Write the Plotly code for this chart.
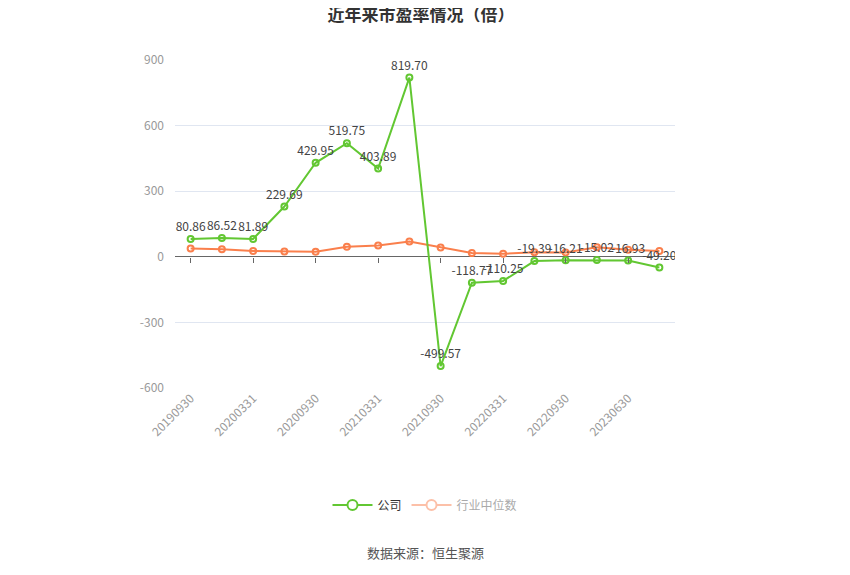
import plotly.graph_objects as go

dates = ['20190930', '20191231', '20200331', '20200630', '20200930', '20201231',
         '20210331', '20210630', '20210930', '20211231', '20220331', '20220630',
         '20220930', '20221231', '20230630', '20230930']
company = [80.86, 86.52, 81.89, 229.69, 429.95, 519.75, 403.89, 819.70,
           -499.57, -118.77, -110.25, -19.39, -16.21, -15.02, -16.93, -49.20]
industry = [38, 35, 27, 24, 23, 46, 52, 70, 42, 17, 14, 21, 20, 44, 32, 27]
yticks = [-600, -300, 0, 300, 600, 900]

green = '#62c732'
orange = '#fa7f4c'
font = 'Noto Sans CJK SC'

fig = go.Figure()

fig.add_trace(go.Scatter(
    x=dates, y=industry, mode='lines+markers', name='行业中位数',
    line=dict(color=orange, width=2),
    marker=dict(symbol='circle-open', size=6, color=orange, line=dict(width=2)),
    showlegend=False,
))
fig.add_trace(go.Scatter(
    x=dates, y=company, mode='lines+markers+text', name='公司',
    line=dict(color=green, width=2),
    marker=dict(symbol='circle-open', size=6, color=green, line=dict(width=2)),
    text=[f'{v:.2f}' for v in company], textposition='top center',
    textfont=dict(size=12, color='#444', family=font),
    showlegend=False,
))

# legend entries
fig.add_trace(go.Scatter(
    x=[None], y=[None], mode='lines+markers', name='公司',
    line=dict(color=green, width=2),
    marker=dict(symbol='circle', size=10, color='white', line=dict(color=green, width=2)),
))
fig.add_trace(go.Scatter(
    x=[None], y=[None], mode='lines+markers',
    name="<span style='color:#aaaaaa'>行业中位数</span>",
    line=dict(color='#fcc0a8', width=2),
    marker=dict(symbol='circle', size=10, color='white', line=dict(color='#fcc0a8', width=2)),
))

# invisible trace that carries the tick axis drawn at zero
fig.add_trace(go.Scatter(x=dates, y=company, xaxis='x2', mode='none',
                         showlegend=False, hoverinfo='skip'))

ymin, ymax = -600, 900

fig.update_layout(
    width=850, height=575,
    margin=dict(l=167, r=183, t=52, b=195),
    paper_bgcolor='white', plot_bgcolor='white',
    font=dict(family=font, size=12, color='#333'),
    title=dict(text='<b>近年来市盈率情况（倍）</b>', x=0.486, xanchor='center',
               y=0.998, yanchor='top', font=dict(size=17, color='#333')),
    legend=dict(orientation='h', x=0.5, xanchor='center', y=-0.357, yanchor='middle',
                font=dict(size=12, color='#333'), itemwidth=40),
    showlegend=True,
    xaxis=dict(
        type='category', categoryorder='array', categoryarray=dates,
        range=[-0.5, len(dates) - 0.5],
        tickvals=dates[::2], ticktext=dates[::2], tickangle=-45,
        tickfont=dict(size=12, color='#999'),
        showgrid=False, showline=False, zeroline=False, ticks='',
    ),
    xaxis2=dict(
        overlaying='x', matches='x', anchor='free', position=-ymin / (ymax - ymin),
        type='category', showticklabels=False, showgrid=False, showline=False,
        zeroline=False, ticks='outside', ticklen=5, tickcolor='#666',
        tickvals=dates[::2],
    ),
    yaxis=dict(
        range=[ymin, ymax], tickvals=yticks, ticktext=[str(v) for v in yticks],
        tickfont=dict(size=12, color='#999'),
        showgrid=True, gridcolor='#e0e6f1', gridwidth=1,
        zeroline=True, zerolinecolor='#666', zerolinewidth=1,
        showline=False, ticks='', ticklabelstandoff=10,
    ),
)

fig.add_annotation(text='数据来源：恒生聚源', x=0.5, y=-0.503, xref='paper', yref='paper',
                   showarrow=False, xanchor='center', yanchor='middle',
                   font=dict(size=13, color='#555'))

fig.write_html('out.html')
